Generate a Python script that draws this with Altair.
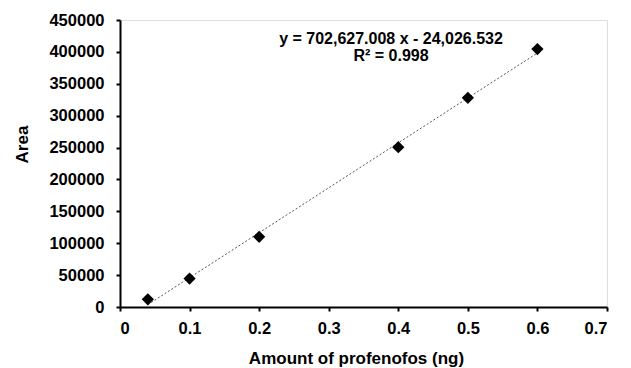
import altair as alt
import pandas as pd

amount = [0.04, 0.1, 0.2, 0.4, 0.5, 0.6]
area = [12000, 44500, 110000, 250500, 328000, 404500]
x_ticks = [0, 0.1, 0.2, 0.3, 0.4, 0.5, 0.6, 0.7]
y_ticks = [0, 50000, 100000, 150000, 200000, 250000, 300000, 350000, 400000, 450000]
eq_lines = ["y = 702,627.008 x - 24,026.532", "R² = 0.998"]

df = pd.DataFrame({"amount": amount, "area": area})
FONT = "Liberation Sans"

x_enc = alt.X("amount:Q", scale=alt.Scale(domain=[0, 0.7], nice=False, zero=True),
              axis=alt.Axis(values=x_ticks, format=".1~f", title="Amount of profenofos (ng)",
                            grid=False, domainColor="black", domainWidth=2,
                            tickColor="black", tickWidth=2, tickSize=4,
                            labelFont=FONT, labelFontSize=16.5, labelFontWeight="bold",
                            labelColor="black", labelPadding=9,
                            labelExpr="datum.value == 0 ? '0' : datum.label",
                            titleFont=FONT, titleFontSize=17, titleFontWeight="bold",
                            titleColor="black", titleX=236, titleY=51,
                            titleAlign="center", titleBaseline="middle"))
y_enc = alt.Y("area:Q", scale=alt.Scale(domain=[0, 450000], nice=False),
              axis=alt.Axis(values=y_ticks, format="d", title="Area",
                            grid=False, domainColor="black", domainWidth=2,
                            tickColor="black", tickWidth=2, tickSize=4,
                            labelFont=FONT, labelFontSize=16.5, labelFontWeight="bold",
                            labelColor="black", labelPadding=12,
                            titleFont=FONT, titleFontSize=17, titleFontWeight="bold",
                            titleColor="black", titleX=-98, titleY=124,
                            titleAngle=270, titleAlign="center", titleBaseline="middle"))

base = alt.Chart(df)

trend = base.transform_regression("amount", "area", method="linear", extent=[0.04, 0.6]).mark_line(
    color="#555555", strokeWidth=1, strokeDash=[2, 2]
).encode(x=x_enc, y=y_enc)

points = base.mark_point(shape="diamond", filled=True, color="black", size=150, opacity=1).encode(
    x=x_enc, y=y_enc
)

eq = alt.Chart(pd.DataFrame({"t": [eq_lines]})).mark_text(
    font=FONT, fontSize=16, fontWeight="bold", color="black", align="center",
    baseline="middle", lineHeight=17
).encode(x=alt.value(271), y=alt.value(19), text="t")

chart = alt.layer(trend, points, eq).properties(
    width=487, height=287,
    autosize=alt.AutoSizeParams(type="none"),
    padding={"left": 120, "top": 20, "right": 24, "bottom": 61},
).configure_view(stroke=None).configure(background="white")

chart.save("out.html", embed_options={"renderer": "svg", "actions": False})
